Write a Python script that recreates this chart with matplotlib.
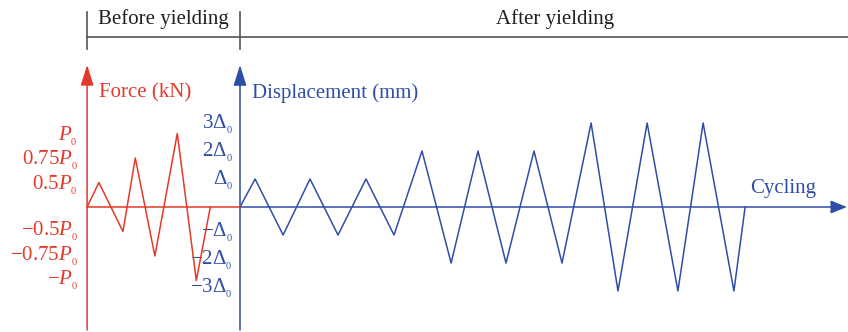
import matplotlib.pyplot as plt

plt.rcParams['font.family'] = 'Liberation Serif'
plt.rcParams['mathtext.fontset'] = 'custom'
plt.rcParams['mathtext.rm'] = 'Liberation Serif'
plt.rcParams['mathtext.it'] = 'Liberation Serif:italic'

RED = '#e5392b'
BLUE = '#2f4ea6'
INK = '#231f20'
GREY = '#555555'

# before yielding: force-controlled cycles (time in cycles from the force axis)
force_time = [0, 0.21, 0.64, 0.86, 1.21, 1.61, 1.95, 2.2]
force_level = [0, 1, -1, 2, -2, 3, -3, 0]
force_ticks = [3, 2, 1, -1, -2, -3]
force_labels = [r'$P_{_0}$', r'$0.75P_{_0}$', r'$0.5P_{_0}$',
                r'$-0.5P_{_0}$', r'$-0.75P_{_0}$', r'$-P_{_0}$']

# after yielding: displacement-controlled cycles, levels in multiples of delta_0
disp_time = [0, 0.27, 0.77, 1.25, 1.75, 2.25, 2.75, 3.25, 3.77, 4.25,
             4.75, 5.25, 5.75, 6.27, 6.75, 7.27, 7.82, 8.27, 8.82, 9.02]
disp_level = [0, 1, -1, 1, -1, 1, -1, 2, -2, 2,
              -2, 2, -2, 3, -3, 3, -3, 3, -3, 0]
disp_ticks = [3, 2, 1, -1, -2, -3]
disp_labels = [r'$3\Delta_{_0}$', r'$2\Delta_{_0}$', r'$\Delta_{_0}$',
               r'$-\Delta_{_0}$', r'$-2\Delta_{_0}$', r'$-3\Delta_{_0}$']

FS = 15
fx0 = -2.73          # where the force axis sits on the cycle axis

fig = plt.figure(figsize=(8.48, 3.32), dpi=100)
ax = fig.add_axes([0, 0, 1, 1])
ax.set_xlim(-240 / 56, 608 / 56)
ax.set_ylim(-125 / 28, 207 / 28)
ax.axis('off')

axf = ax.twinx()
axf.set_ylim(-125 / 24.5, 207 / 24.5)
axf.axis('off')

# ---- force part ----
axf.plot([fx0, 0], [0, 0], color=RED, lw=1.1)
axf.plot([fx0 + t for t in force_time], force_level, color=RED, lw=1.1)
axf.annotate('', xy=(fx0, 5.8), xytext=(fx0, -5.02),
             arrowprops=dict(arrowstyle='-|>,head_length=0.7,head_width=0.22',
                             mutation_scale=18, color=RED, lw=1.1,
                             shrinkA=0, shrinkB=0))
for lvl, lab in zip(force_ticks, force_labels):
    dy = -5.3 if lvl > 0 else -3.2
    axf.annotate(lab, xy=(fx0, lvl), xytext=(-6.5, dy), textcoords='offset points',
                 ha='right', va='baseline', color=RED, fontsize=FS)
axf.text(fx0 + 12 / 56, (207 - 97) / 24.5, 'Force (kN)', color=RED,
         fontsize=FS, ha='left', va='baseline')

# ---- displacement part ----
ax.plot(disp_time, disp_level, color=BLUE, lw=1.1)
ax.annotate('', xy=(0, 142 / 28), xytext=(0, -123 / 28),
            arrowprops=dict(arrowstyle='-|>,head_length=0.7,head_width=0.22',
                            mutation_scale=18, color=BLUE, lw=1.1,
                            shrinkA=0, shrinkB=0))
ax.annotate('', xy=(607 / 56, 0), xytext=(0, 0),
            arrowprops=dict(arrowstyle='-|>,head_length=0.55,head_width=0.22',
                            mutation_scale=18, color=BLUE, lw=1.1,
                            shrinkA=0, shrinkB=0))
for lvl, lab in zip(disp_ticks, disp_labels):
    dy = -4.5 if lvl > 0 else -1.2
    ax.annotate(lab, xy=(0, lvl), xytext=(-5, dy), textcoords='offset points',
                ha='right', va='baseline', color=BLUE, fontsize=FS)
ax.text(12 / 56, (207 - 98) / 28, 'Displacement (mm)', color=BLUE,
        fontsize=FS, ha='left', va='baseline')
ax.text(510 / 56, 14 / 28, 'Cycling', color=BLUE, fontsize=FS,
        ha='left', va='baseline')

# ---- phase bracket on top ----
tr = ax.get_xaxis_transform()
ax.plot([fx0, 608 / 56], [0.8886, 0.8886], color=GREY, lw=1.2, transform=tr)
for x in (fx0, 0):
    ax.plot([x, x], [0.852, 0.964], color=GREY, lw=1.2, transform=tr)
ax.text(fx0 / 2, 0.9277, 'Before yielding', color=INK, fontsize=FS,
        ha='center', va='baseline', transform=tr)
ax.text(5.63, 0.9277, 'After yielding', color=INK, fontsize=FS,
        ha='center', va='baseline', transform=tr)

fig.savefig('out.png', dpi=100)
